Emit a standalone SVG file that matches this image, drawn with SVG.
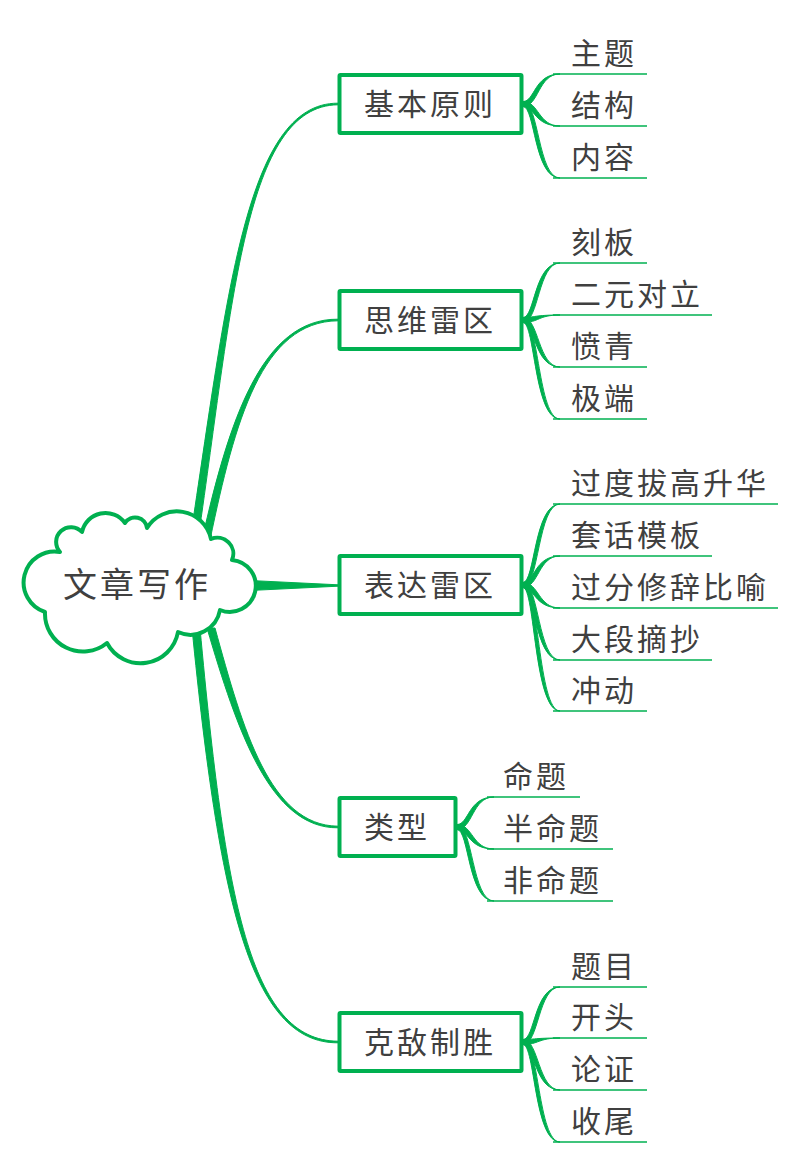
<svg xmlns="http://www.w3.org/2000/svg" width="800" height="1172" viewBox="0 0 800 1172">
<style>
.t{font-family:"Noto Sans CJK SC","Noto Sans",sans-serif;font-size:30px;fill:#404040;letter-spacing:3px}
.big{font-size:34px}
.box{fill:#fff;stroke:#00B050;stroke-width:4}
.cloud{fill:#fff;stroke:#00B050;stroke-width:4;stroke-linejoin:round}
.w{fill:#00B050;stroke:#00B050;stroke-width:1;stroke-linejoin:round}
.ul{stroke:#00B050;stroke-width:1.5;fill:none}
</style>
<rect width="800" height="1172" fill="#fff"/>
<g id="connectors">
<path class="w" d="M190,540 C227,300 245,102.5 338,103.2 L338,104.8 C245,105.5 233,300 198,540 Z"/>
<path class="w" d="M202,540 C229,420 262,318.5 338,319.2 L338,320.8 C262,321.5 235,420 210,540 Z"/>
<path class="w" d="M250,580.5 L338,584.8 L338,586.2 L250,590.5 Z"/>
<path class="w" d="M215,628 C243,730 270,825.5 338,826.2 L338,827.8 C270,828.5 237,730 207,628 Z"/>
<path class="w" d="M200,628 C225,900 250,1040.5 338,1041.2 L338,1042.8 C250,1043.5 219,900 192,628 Z"/>
<path class="w" d="M523,101.5 C535,101.5 534,74 560,74 C538,74 539,106.5 523,106.5 Z"/>
<path class="w" d="M523,101.5 C539,101.5 538,126 560,126 C534,126 535,106.5 523,106.5 Z"/>
<path class="w" d="M523,101.5 C539,101.5 538,178 560,178 C534,178 535,106.5 523,106.5 Z"/>
<path class="w" d="M523,317.5 C535,317.5 534,263 560,263 C538,263 539,322.5 523,322.5 Z"/>
<path class="w" d="M523,317.5 C535,317.5 534,315 560,315 C538,315 539,322.5 523,322.5 Z"/>
<path class="w" d="M523,317.5 C539,317.5 538,367 560,367 C534,367 535,322.5 523,322.5 Z"/>
<path class="w" d="M523,317.5 C539,317.5 538,419 560,419 C534,419 535,322.5 523,322.5 Z"/>
<path class="w" d="M523,582.5 C535,582.5 534,504 560,504 C538,504 539,587.5 523,587.5 Z"/>
<path class="w" d="M523,582.5 C535,582.5 534,556 560,556 C538,556 539,587.5 523,587.5 Z"/>
<path class="w" d="M523,582.5 C539,582.5 538,608 560,608 C534,608 535,587.5 523,587.5 Z"/>
<path class="w" d="M523,582.5 C539,582.5 538,660 560,660 C534,660 535,587.5 523,587.5 Z"/>
<path class="w" d="M523,582.5 C539,582.5 538,711 560,711 C534,711 535,587.5 523,587.5 Z"/>
<path class="w" d="M457,824.5 C469,824.5 468,797 494,797 C472,797 473,829.5 457,829.5 Z"/>
<path class="w" d="M457,824.5 C473,824.5 472,849 494,849 C468,849 469,829.5 457,829.5 Z"/>
<path class="w" d="M457,824.5 C473,824.5 472,901 494,901 C468,901 469,829.5 457,829.5 Z"/>
<path class="w" d="M523,1039.5 C535,1039.5 534,987 560,987 C538,987 539,1044.5 523,1044.5 Z"/>
<path class="w" d="M523,1039.5 C535,1039.5 534,1038 560,1038 C538,1038 539,1044.5 523,1044.5 Z"/>
<path class="w" d="M523,1039.5 C539,1039.5 538,1090 560,1090 C534,1090 535,1044.5 523,1044.5 Z"/>
<path class="w" d="M523,1039.5 C539,1039.5 538,1142 560,1142 C534,1142 535,1044.5 523,1044.5 Z"/>
</g>
<g id="root">
<path class="cloud" d="M60,552 A13,13 0 0 1 82,532 A24,24 0 0 1 125,523 A12,12 0 0 1 147,528 A35,35 0 0 1 211,539 A16,16 0 0 1 232,560 A26,26 0 1 1 220,610 A30,30 0 0 1 178,632 A38,38 0 0 1 107,643 A38,38 0 0 1 45,612 A31,31 0 0 1 60,552 Z"/>
<text class="t big" x="63" y="597">文章写作</text>
</g>
<g id="n1"><rect class="box" x="339.5" y="75" width="182" height="58" rx="1"/><text class="t" x="364" y="114.5">基本原则</text></g>
<g id="n2"><rect class="box" x="339.5" y="291" width="182" height="58" rx="1"/><text class="t" x="364" y="330.5">思维雷区</text></g>
<g id="n3"><rect class="box" x="339.5" y="556" width="182" height="58" rx="1"/><text class="t" x="364" y="595.5">表达雷区</text></g>
<g id="n4"><rect class="box" x="339.5" y="798" width="116" height="58" rx="1"/><text class="t" x="364" y="837.5">类型</text></g>
<g id="n5"><rect class="box" x="339.5" y="1013" width="182" height="58" rx="1"/><text class="t" x="364" y="1052.5">克敌制胜</text></g>
<g id="n1-1"><text class="t" x="571" y="64">主题</text><line class="ul" x1="553" y1="74" x2="647" y2="74"/></g>
<g id="n1-2"><text class="t" x="571" y="116">结构</text><line class="ul" x1="553" y1="126" x2="647" y2="126"/></g>
<g id="n1-3"><text class="t" x="571" y="168">内容</text><line class="ul" x1="553" y1="178" x2="647" y2="178"/></g>
<g id="n2-1"><text class="t" x="571" y="253">刻板</text><line class="ul" x1="553" y1="263" x2="647" y2="263"/></g>
<g id="n2-2"><text class="t" x="571" y="305">二元对立</text><line class="ul" x1="553" y1="315" x2="712" y2="315"/></g>
<g id="n2-3"><text class="t" x="571" y="357">愤青</text><line class="ul" x1="553" y1="367" x2="647" y2="367"/></g>
<g id="n2-4"><text class="t" x="571" y="409">极端</text><line class="ul" x1="553" y1="419" x2="647" y2="419"/></g>
<g id="n3-1"><text class="t" x="571" y="494">过度拔高升华</text><line class="ul" x1="553" y1="504" x2="778" y2="504"/></g>
<g id="n3-2"><text class="t" x="571" y="546">套话模板</text><line class="ul" x1="553" y1="556" x2="712" y2="556"/></g>
<g id="n3-3"><text class="t" x="571" y="598">过分修辞比喻</text><line class="ul" x1="553" y1="608" x2="778" y2="608"/></g>
<g id="n3-4"><text class="t" x="571" y="650">大段摘抄</text><line class="ul" x1="553" y1="660" x2="712" y2="660"/></g>
<g id="n3-5"><text class="t" x="571" y="701">冲动</text><line class="ul" x1="553" y1="711" x2="647" y2="711"/></g>
<g id="n4-1"><text class="t" x="503" y="787">命题</text><line class="ul" x1="487" y1="797" x2="580" y2="797"/></g>
<g id="n4-2"><text class="t" x="503" y="839">半命题</text><line class="ul" x1="487" y1="849" x2="613" y2="849"/></g>
<g id="n4-3"><text class="t" x="503" y="891">非命题</text><line class="ul" x1="487" y1="901" x2="613" y2="901"/></g>
<g id="n5-1"><text class="t" x="571" y="977">题目</text><line class="ul" x1="553" y1="987" x2="647" y2="987"/></g>
<g id="n5-2"><text class="t" x="571" y="1028">开头</text><line class="ul" x1="553" y1="1038" x2="647" y2="1038"/></g>
<g id="n5-3"><text class="t" x="571" y="1080">论证</text><line class="ul" x1="553" y1="1090" x2="647" y2="1090"/></g>
<g id="n5-4"><text class="t" x="571" y="1132">收尾</text><line class="ul" x1="553" y1="1142" x2="647" y2="1142"/></g>
</svg>
